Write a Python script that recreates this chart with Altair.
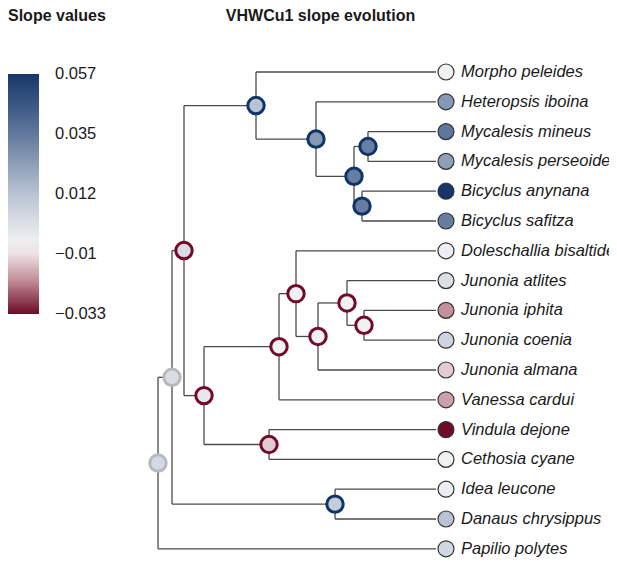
import altair as alt
import pandas as pd

# ---- data ----
tip_names = [
    "Morpho peleides", "Heteropsis iboina", "Mycalesis mineus", "Mycalesis perseoides",
    "Bicyclus anynana", "Bicyclus safitza", "Doleschallia bisaltide", "Junonia atlites",
    "Junonia iphita", "Junonia coenia", "Junonia almana", "Vanessa cardui",
    "Vindula dejone", "Cethosia cyane", "Idea leucone", "Danaus chrysippus", "Papilio polytes",
]
tip_slope = [-0.006, 0.025, 0.035, 0.023, 0.057, 0.033, -0.005, 0.001,
             -0.020, 0.005, -0.013, -0.018, -0.033, -0.006, -0.005, 0.012, 0.004]
tip_parent = ["A", "B", "D", "D", "E", "E", "J", "L", "M", "M", "K", "H", "I", "I", "N", "N", "R"]
tip_depth = 278

node_names = ["R", "O", "F", "A", "B", "C", "D", "E", "G", "H", "J", "K", "L", "M", "I", "N"]
node_parent = [None, "R", "O", "F", "A", "B", "C", "C", "F", "G", "H", "J", "K", "L", "G", "O"]
node_depth = [0, 14, 26, 98, 158, 196, 210, 204, 46, 121, 138, 160, 189, 206, 111, 177]
node_slope = [0.003, 0.002, 0.002, 0.012, 0.025, 0.033, 0.033, 0.033,
              -0.002, -0.006, -0.006, -0.006, -0.006, -0.006, -0.013, 0.008]
node_sign = ["uncertain", "uncertain", "negative", "positive", "positive", "positive",
             "positive", "positive", "negative", "negative", "negative", "negative",
             "negative", "negative", "negative", "positive"]

# legend ticks (evenly spaced along the bar, shown rounded)
legend_values = [0.05699, 0.03451, 0.012, -0.01049, -0.03299]

# ---- tree layout (y = tip order, internal nodes at mean of children) ----
depth = {n: d for n, d in zip(node_names, node_depth)}
parent = {n: p for n, p in zip(node_names, node_parent)}
ypos = {}
for i, t in enumerate(tip_names):
    ypos[t] = float(i)
    depth[t] = tip_depth
    parent[t] = tip_parent[i]
children = {n: [] for n in node_names}
for n, p in parent.items():
    if p is not None:
        children[p].append(n)

def get_y(n):
    if n not in ypos:
        ypos[n] = sum(get_y(c) for c in children[n]) / len(children[n])
    return ypos[n]

for n in node_names:
    get_y(n)

h_rows = [{"x": depth[p], "x2": depth[n], "y": ypos[n]} for n, p in parent.items() if p is not None]
v_rows = [{"x": depth[n], "y": min(ypos[c] for c in children[n]), "y2": max(ypos[c] for c in children[n])}
          for n in node_names]
nodes_df = pd.DataFrame({"x": node_depth, "y": [ypos[n] for n in node_names],
                         "slope": node_slope, "sign": node_sign})
tips_df = pd.DataFrame({"x": [tip_depth] * len(tip_names), "y": [ypos[t] for t in tip_names],
                        "slope": tip_slope, "name": tip_names})
h_df = pd.DataFrame(h_rows)
v_df = pd.DataFrame(v_rows)

FONT = "Liberation Sans"
W, H, TOP = 601, 521, 30
STEP = 29.8
ymin = -(72 - 8 - TOP) / STEP
xs = alt.Scale(domain=[-150, -150 + W], nice=False, zero=False)
ys = alt.Scale(domain=[ymin, ymin + H / STEP], nice=False, zero=False, reverse=True)
X = lambda f="x": alt.X(f, type="quantitative", scale=xs, axis=None)
Y = lambda f="y": alt.Y(f, type="quantitative", scale=ys, axis=None)

fill_scale = alt.Scale(
    domain=[-0.033, -0.02, -0.008, 0.012, 0.035, 0.057],
    range=["#6e0b27", "#c4909c", "#f6f6f6", "#b9c3d3", "#5f779b", "#15366a"],
    interpolate="rgb",
)
legend = alt.Legend(
    title="Slope values", orient="none", legendX=0, legendY=-TOP, direction="vertical",
    gradientLength=240, gradientThickness=31, values=legend_values, format=".3~f",
    labelFont=FONT, labelFontSize=16.5, labelOffset=16, labelColor="#1a1a1a",
    titleFont=FONT, titleFontSize=16, titleFontWeight="bold", titleColor="#1a1a1a",
    titlePadding=50, gradientStrokeWidth=0,
)
fill = alt.Fill("slope", type="quantitative", scale=fill_scale, legend=legend)

hlines = alt.Chart(h_df).mark_rule(color="#4a4a4a", strokeWidth=1.3).encode(
    x=X(), x2="x2", y=Y())
vlines = alt.Chart(v_df).mark_rule(color="#4a4a4a", strokeWidth=1.3).encode(
    x=X(), y=Y(), y2="y2")
node_pts = alt.Chart(nodes_df).mark_circle(size=270, opacity=1, strokeWidth=3).encode(
    x=X(), y=Y(), fill=fill,
    stroke=alt.Stroke("sign", type="nominal", legend=None,
                      scale=alt.Scale(domain=["negative", "positive", "uncertain"],
                                      range=["#730a28", "#0f3468", "#b9b9bc"])),
)
tip_pts = alt.Chart(tips_df).mark_circle(size=255, opacity=1, strokeWidth=1.2, stroke="#333333",
                                         xOffset=10).encode(
    x=X(), y=Y(), fill=fill)
labels = alt.Chart(tips_df).mark_text(align="left", baseline="middle", dx=25, font=FONT,
                                      fontSize=16.5, fontStyle="italic", color="#1a1a1a").encode(
    x=X(), y=Y(), text="name")

chart = alt.layer(hlines, vlines, node_pts, tip_pts, labels).properties(
    width=W, height=H,
    autosize=alt.AutoSizeParams(type="none"),
    padding={"left": 0, "top": TOP, "right": 0, "bottom": 0},
    title=alt.TitleParams("VHWCu1 slope evolution", font=FONT, fontSize=16, fontWeight="bold",
                          color="#1a1a1a", anchor="middle", dx=12, offset=-16),
).configure_view(strokeWidth=0)

chart.save("out.html", embed_options={"renderer": "svg", "actions": False})
